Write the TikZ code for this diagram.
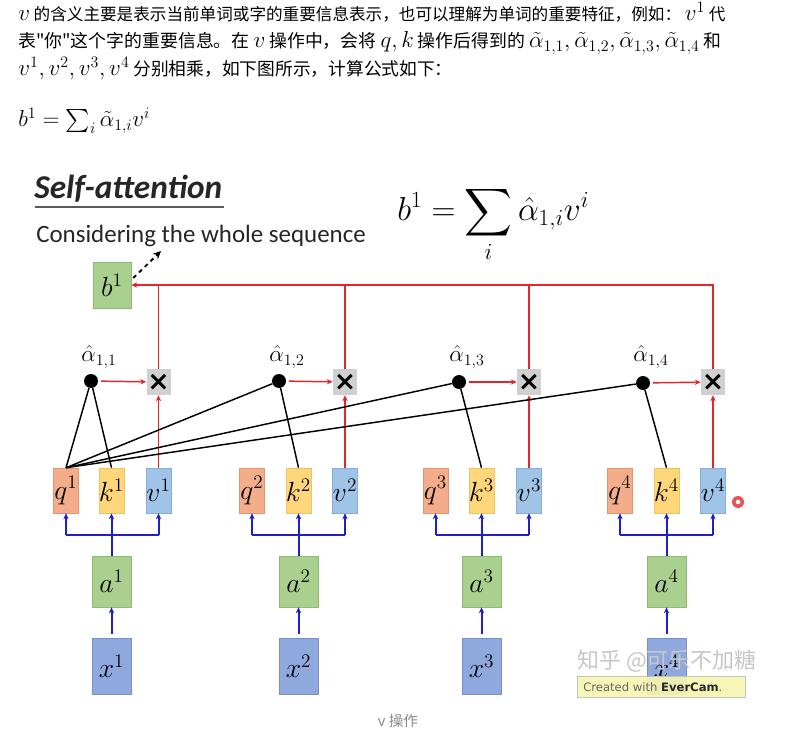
\documentclass[tikz,border=0pt]{standalone}
\usepackage[no-math]{fontspec}
\usepackage{amsmath}
\newfontfamily\cjk{Noto Sans CJK SC}
\newfontfamily\carlito{Carlito}
\newfontfamily\djv{DejaVu Sans}
\usetikzlibrary{arrows.meta}
\definecolor{qfill}{HTML}{F4AD8B}
\definecolor{qdraw}{HTML}{E3946F}
\definecolor{kfill}{HTML}{FFD77A}
\definecolor{kdraw}{HTML}{EEC45E}
\definecolor{vfill}{HTML}{A0C3E8}
\definecolor{vdraw}{HTML}{86AEDB}
\definecolor{gfill}{HTML}{A9D08E}
\definecolor{gdraw}{HTML}{8DBB72}
\definecolor{xfill}{HTML}{8FA8DE}
\definecolor{xdraw}{HTML}{7890C8}
\definecolor{mulfill}{HTML}{D0D0D0}
\definecolor{redl}{HTML}{E3262B}
\definecolor{bluel}{HTML}{2020C8}
\definecolor{capgray}{HTML}{8C8C8C}
\definecolor{every}{HTML}{F8F6B0}
\newcommand{\mth}[1]{{\fontsize{17}{18}\selectfont$#1$}}
\begin{document}
\begin{tikzpicture}[x=0.75pt,y=-0.75pt,
  txt/.style={anchor=base west, inner sep=0pt, font=\cjk\fontsize{#1}{15}\selectfont},
  boxlbl/.style={inner sep=0pt, font=\fontsize{20}{22}\selectfont},
  qb/.style={boxlbl, draw=qdraw, fill=qfill, minimum width=18.75pt, minimum height=33.75pt},
  kb/.style={boxlbl, draw=kdraw, fill=kfill, minimum width=18.75pt, minimum height=33.75pt},
  vb/.style={boxlbl, draw=vdraw, fill=vfill, minimum width=18.75pt, minimum height=33.75pt},
  gb/.style={boxlbl, draw=gdraw, fill=gfill, minimum width=29.25pt, minimum height=38.25pt},
  xb/.style={boxlbl, draw=xdraw, fill=xfill, minimum width=29.25pt, minimum height=42pt},
  mul/.style={inner sep=0pt, fill=mulfill, minimum width=18pt, minimum height=19.5pt, font=\djv\bfseries\fontsize{20}{20}\selectfont},
  dotn/.style={circle, fill=black, inner sep=0pt, minimum size=10.5pt},
  albl/.style={inner sep=0pt, font=\fontsize{18}{20}\selectfont},
  redline/.style={draw=redl, line width=1.1pt},
  redar/.style={redline, -{Stealth[length=4.5pt,width=4pt]}},
  blueline/.style={draw=bluel, line width=1.5pt},
  bluear/.style={blueline, -{Stealth[length=4.5pt,width=4pt]}},
  blk/.style={draw=black, line width=1.1pt}
]
\useasboundingbox (0,0) rectangle (791,748);
\fill[white] (0,0) rectangle (791,748);

% ---- article text ----
\node[txt=12.45] (t1) at (18,21) {\mth{v} 的含义主要是表示当前单词或字的重要信息表示，也可以理解为单词的重要特征，例如： \mth{v^1} 代};
\node[txt=13.4] (t2) at (18,48) {表"你"这个字的重要信息。在 \mth{v} 操作中，会将 \mth{q,k} 操作后得到的 \mth{\tilde{\alpha}_{1,1},\tilde{\alpha}_{1,2},\tilde{\alpha}_{1,3},\tilde{\alpha}_{1,4}} 和};
\node[txt=13.3] (t3) at (18,76) {\mth{v^1,v^2,v^3,v^4} 分别相乘，如下图所示，计算公式如下：};
\node[txt=13] (t4) at (18,127) {\mth{b^1=\sum_i\tilde{\alpha}_{1,i}v^i}};

% ---- figure titles ----
\node[anchor=base west, inner sep=0pt, font=\carlito\bfseries\itshape\fontsize{25}{28}\selectfont, text=black!85] (title) at (34,199) {Self-attention};
\draw[black!65, line width=1.5pt] (35,207) -- (224,207);
\node[anchor=base west, inner sep=0pt, font=\carlito\fontsize{18.7}{21}\selectfont, text=black!85] (sub) at (36,243) {Considering the whole sequence};
\node[anchor=base west, inner sep=0pt, font=\fontsize{24}{26}\selectfont] (formula) at (397,221) {$\displaystyle b^1=\sum_i \hat{\alpha}_{1,i}v^i$};

% ---- b1 ----
\node[gb, minimum height=34.5pt, minimum width=28.5pt] (b1) at (112,285) {$b^1$};
\coordinate (dend) at (161,251);
\draw[black, line width=1.4pt, dashed, -{Stealth[length=6pt,width=5.5pt]}] ([shift={(2,-7)}]b1.east) -- (dend);

% ---- groups ----
\foreach \i/\qx/\kx/\vx/\dx/\dy in {1/66/111.5/158.5/91/381, 2/252/298.5/345/279/381, 3/435.5/481.5/529/459/382, 4/620/666.5/713/643/383} {
  \node[qb] (q\i) at (\qx,490.5) {$q^{\i}$};
  \node[kb] (k\i) at (\kx,490.5) {$k^{\i}$};
  \node[vb] (v\i) at (\vx,490.5) {$v^{\i}$};
  \node[gb] (a\i) at (\kx,581.5) {$a^{\i}$};
  \node[xb] (x\i) at (\kx,666) {$x^{\i}$};
  \node[mul] (m\i) at (\vx,382) {×};
  \node[dotn] (d\i) at (\dx,\dy) {};
  \node[albl] (al\i) at (\dx+8,357) {$\hat{\alpha}_{1,\i}$};
  % blue inputs
  \coordinate (j\i) at (\kx,535);
  \draw[blueline] (a\i.north) -- (j\i);
  \draw[blueline] (q\i.south |- j\i) -- (v\i.south |- j\i);
  \draw[bluear] (q\i.south |- j\i) -- (q\i.south);
  \draw[bluear] (k\i.south |- j\i) -- (k\i.south);
  \draw[bluear] (v\i.south |- j\i) -- (v\i.south);
  \draw[bluear, shorten <=3pt] (x\i) -- (a\i);
  % red
  \draw[redar, shorten <=2pt] (d\i) -- (m\i);
  \draw[redar] (v\i) -- (m\i);
  % black attention lines
  \draw[blk] (q1.north) -- (d\i);
  \draw[blk] (k\i.north) -- (d\i);
}
\foreach \i in {1,2,3} {
  \draw[redline] (m\i.north) -- (m\i.north |- b1.east);
}
\draw[redar] (m4.north) |- (b1.east);

% ---- cursor marker ----
\fill[redl!80] (738,502) circle (6);
\fill[white] (738,502) circle (2.3);

% ---- watermark & EverCam ----
\node[inner sep=0pt, font=\cjk\fontsize{16.5}{18}\selectfont, text=black!22] (wm) at (667,661) {知乎 @可乐不加糖};
\filldraw[fill=every, draw=black!25, opacity=0.9] (577,676) rectangle (745,697);
\node[anchor=base west, inner sep=0pt, font=\djv\fontsize{8.7}{11}\selectfont, text=black!60] (ec) at (583,691) {Created with \textbf{\color{black!85}EverCam}.};

% ---- caption ----
\node[inner sep=0pt, font=\cjk\fontsize{11}{13}\selectfont, text=capgray] (cap) at (398,721) {v 操作};
\end{tikzpicture}
\end{document}
